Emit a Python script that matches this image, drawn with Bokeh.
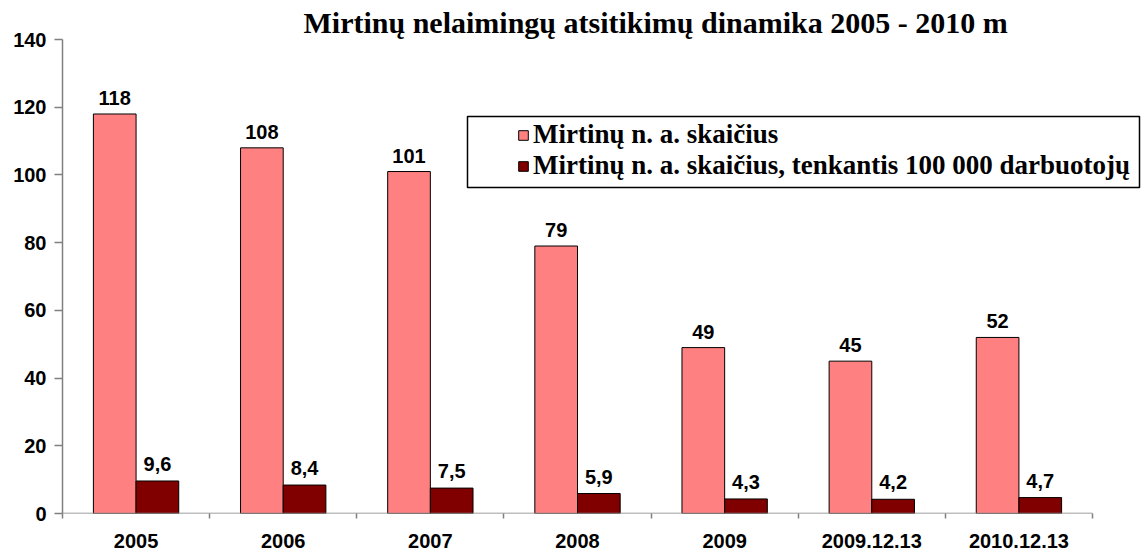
from bokeh.plotting import figure
from bokeh.models import (Range1d, FixedTicker, Legend, LegendItem,
                          BoxAnnotation, ColumnDataSource)
from bokeh.core.properties import value
from bokeh.embed import file_html
from bokeh.resources import INLINE

# ---- data ----
categories = ["2005", "2006", "2007", "2008", "2009", "2009.12.13", "2010.12.13"]
deaths = [118, 108, 101, 79, 49, 45, 52]
deaths_per_100k = [9.6, 8.4, 7.5, 5.9, 4.3, 4.2, 4.7]
y_ticks = [0, 20, 40, 60, 80, 100, 120, 140]
series_names = ["Mirtinų n. a. skaičius",
                "Mirtinų n. a. skaičius, tenkantis 100 000 darbuotojų"]
title_text = "Mirtinų nelaimingų atsitikimų dinamika 2005 - 2010 m"

# ---- layout constants (pixels) ----
W, H = 1144, 556
FRAME_L, FRAME_R, FRAME_T, FRAME_B = 62, 1141, 39, 513
AXIS_END_PX = 1092          # where the category axis ends

n = len(categories)
x_end = n * (FRAME_R - FRAME_L) / (AXIS_END_PX - FRAME_L)
BAR_W = 0.29
centers = [i + 0.5 for i in range(n)]
x_first = [c - BAR_W / 2 for c in centers]
x_second = [c + BAR_W / 2 for c in centers]


def fmt(v):
    return str(v).replace(".", ",")


src = ColumnDataSource(dict(
    x1=x_first, x2=x_second,
    deaths=deaths, rate=deaths_per_100k,
    deaths_lbl=[fmt(v) for v in deaths],
    rate_lbl=[fmt(v) for v in deaths_per_100k],
))

p = figure(width=W, height=H,
           x_range=Range1d(0, x_end), y_range=Range1d(y_ticks[0], y_ticks[-1]),
           output_backend="svg", toolbar_location=None,
           min_border_left=FRAME_L, min_border_right=W - FRAME_R,
           min_border_top=FRAME_T, min_border_bottom=H - FRAME_B)
p.xgrid.visible = False
p.ygrid.visible = False
p.outline_line_color = None
p.background_fill_color = "white"
p.border_fill_color = "white"

# title
p.title.text = title_text
p.title.text_font = "Liberation Serif"
p.title.text_font_size = "30px"
p.title.text_font_style = "bold"
p.title.text_color = "black"
p.title.align = "left"
p.title.offset = 241
p.title.standoff = 2

r1 = p.vbar(x="x1", top="deaths", width=BAR_W, source=src,
            fill_color="#FF8080", line_color="black", line_width=1)
r2 = p.vbar(x="x2", top="rate", width=BAR_W, source=src,
            fill_color="#800000", line_color="black", line_width=1)

lbl_kw = dict(text_align="center", text_baseline="alphabetic",
              text_font=value("Liberation Sans"), text_font_style="bold",
              text_font_size="20px", text_color="black", source=src)
p.text(x="x1", y="deaths", text="deaths_lbl", y_offset=-16, **lbl_kw)
p.text(x="x2", y="rate", text="rate_lbl", y_offset=-17, **lbl_kw)

# category axis baseline (from first to last category boundary)
p.segment(x0=[0], y0=[0], x1=[n], y1=[0], line_color="#808080", line_width=1.5)

# x axis
xa = p.xaxis[0]
xa.ticker = FixedTicker(ticks=centers, minor_ticks=list(range(n + 1)))
xa.major_label_overrides = {c: lab for c, lab in zip(centers, categories)}
xa.major_tick_line_color = None
xa.major_tick_out = 0
xa.major_tick_in = 0
xa.minor_tick_line_color = "#808080"
xa.minor_tick_line_width = 1.5
xa.minor_tick_out = 5
xa.minor_tick_in = 0
xa.axis_line_color = None
xa.major_label_text_font = "Liberation Sans"
xa.major_label_text_font_style = "bold"
xa.major_label_text_font_size = "20px"
xa.major_label_text_color = "black"
xa.major_label_standoff = 15

# y axis
ya = p.yaxis[0]
ya.ticker = FixedTicker(ticks=y_ticks)
ya.minor_tick_line_color = None
ya.major_tick_out = 8
ya.major_tick_in = 0
ya.major_tick_line_color = "#808080"
ya.major_tick_line_width = 1.5
ya.axis_line_color = "#808080"
ya.axis_line_width = 1.5
ya.major_label_text_font = "Liberation Sans"
ya.major_label_text_font_style = "bold"
ya.major_label_text_font_size = "20px"
ya.major_label_text_color = "black"
ya.major_label_standoff = 8

# legend box (frame-relative screen pixels) + legend
box = BoxAnnotation(left=467 - FRAME_L, right=1139 - FRAME_L,
                    top=FRAME_B - 116, bottom=FRAME_B - 187,
                    left_units="screen", right_units="screen",
                    top_units="screen", bottom_units="screen",
                    fill_color="white", fill_alpha=1.0,
                    line_color="black", line_width=1.5, line_alpha=1.0)
p.add_layout(box)

legend = Legend(items=[LegendItem(label=series_names[0], renderers=[r1]),
                       LegendItem(label=series_names[1], renderers=[r2])],
                location=(517 - FRAME_L, FRAME_B - 181), padding=0, spacing=0,
                margin=0, glyph_width=12, glyph_height=12, label_standoff=4,
                border_line_color=None, background_fill_alpha=0,
                label_text_font="Liberation Serif",
                label_text_font_style="bold",
                label_text_font_size="27px", label_text_color="black")
p.add_layout(legend)

open("out.html", "w").write(file_html(p, INLINE))
